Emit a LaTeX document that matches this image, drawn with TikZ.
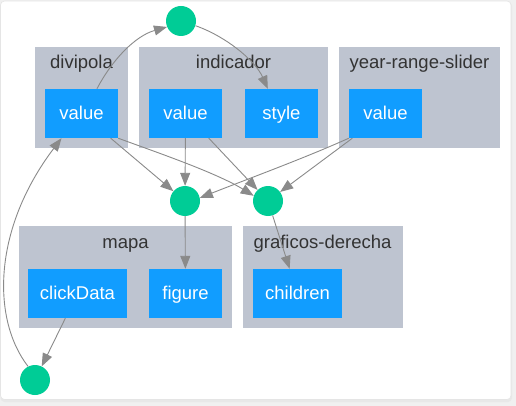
\documentclass[tikz,border=0pt]{standalone}
\usepackage{fontspec}
\setmainfont{Liberation Sans}
\usetikzlibrary{arrows.meta}
\definecolor{clusterbg}{HTML}{BEC4D0}
\definecolor{boxblue}{HTML}{119DFF}
\definecolor{dotgreen}{HTML}{00CC96}
\definecolor{edgegray}{HTML}{8A8A8A}
\definecolor{labeltext}{HTML}{333333}
\tikzset{
  cluster/.style={fill=clusterbg, draw=none, inner sep=0pt},
  clabel/.style={anchor=base, text=labeltext, font=\fontsize{18.5}{20}\selectfont, inner sep=0pt},
  propbox/.style={fill=boxblue, draw=none, text=white, minimum height=49pt, minimum width=73pt,
    inner sep=0pt, font=\fontsize{18.5}{20}\selectfont, text height=12pt, text depth=0pt},
  dot/.style={circle, fill=dotgreen, draw=none, minimum size=30pt, inner sep=0pt},
  link/.style={draw=edgegray, line width=0.9pt, -{Triangle[length=13pt,width=10pt]}}
}
\begin{document}
\begin{tikzpicture}[x=1pt,y=-1pt]
\useasboundingbox (0,0) rectangle (516,406);
\fill[black!6] (0,0) rectangle (516,406);
\fill[black!9, rounded corners=4] (0.5,2) rectangle (512,402);
\filldraw[fill=white, draw=black!10, line width=0.6pt, rounded corners=4] (0.5,1) rectangle (511,399.5);

% clusters
\node[cluster, minimum width=93pt, minimum height=101pt] (cldiv) at (81.5,97.5) {};
\node[cluster, minimum width=189pt, minimum height=101pt] (clind) at (233.5,97.5) {};
\node[cluster, minimum width=161pt, minimum height=101pt] (clyrs) at (419.5,97.5) {};
\node[cluster, minimum width=213pt, minimum height=102pt] (clmap) at (125.5,277) {};
\node[cluster, minimum width=160pt, minimum height=102pt] (clgra) at (323,277) {};

\node[clabel] (ldiv) at (81.5,69) {divipola};
\node[clabel] (lind) at (233.5,69) {indicador};
\node[clabel] (lyrs) at (419.5,69) {year-range-slider};
\node[clabel] (lmap) at (125.5,248) {mapa};
\node[clabel] (lgra) at (322.5,248) {graficos-derecha};

% property boxes
\node[propbox] (dvv) at (81.5,113.5) {value};
\node[propbox] (iv) at (185.5,113.5) {value};
\node[propbox] (ist) at (281.5,113.5) {style};
\node[propbox] (yv) at (385.5,113.5) {value};
\node[propbox, minimum width=99pt] (cd) at (77.5,293.5) {clickData};
\node[propbox] (fig) at (185.5,293.5) {figure};
\node[propbox, minimum width=89pt] (ch) at (297.5,293.5) {children};

% callback dots
\node[dot] (ctop) at (181,21) {};
\node[dot] (c1) at (185,201) {};
\node[dot] (c2) at (268,201) {};
\node[dot] (cbot) at (35,380) {};

% connectors
\draw[link] (dvv.58) .. controls (112,60) and (135,36) .. (ctop.203);
\draw[link] (ctop.-18) .. controls (225,36) and (255,60) .. (ist.119);
\draw[link] (dvv) -- (c1);
\draw[link] (dvv.south east) .. controls (150,150) and (215,172) .. (c2.160);
\draw[link] (iv) -- (c1);
\draw[link] (iv) -- (c2);
\draw[link] (yv.south west) .. controls (305,158) and (245,180) .. (c1.12);
\draw[link] (yv) -- (c2);
\draw[link] (c1) -- (fig);
\draw[link] (c2) -- (ch);
\draw[link] (cd) -- (cbot);
\draw[link] (cbot.117) .. controls (-8,320) and (-8,230) .. (dvv.231);
\end{tikzpicture}
\end{document}
